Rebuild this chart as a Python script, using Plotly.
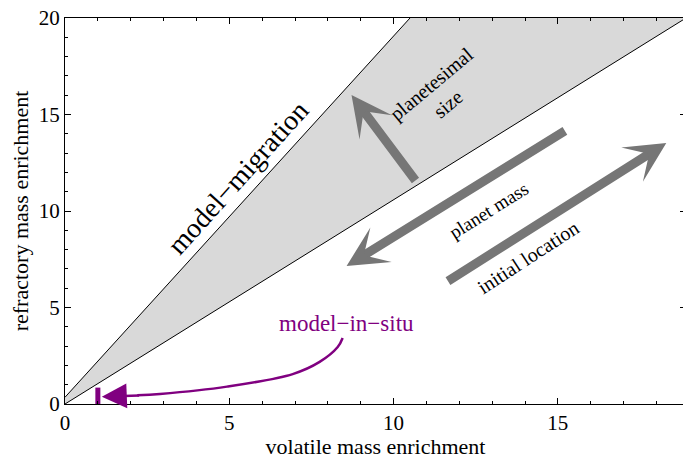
import plotly.graph_objects as go

# wedge boundaries
upper_x = [0, 10.5]
upper_y = [0.35, 20]
lower_x = [0, 18.9]
lower_y = [0, 20]

# in-situ bar
insitu_x = [1, 1]
insitu_y = [0, 0.85]

# curved purple arrow path (data coords)
curve_x = [8.45, 8.3, 7.75, 6.93, 4.93, 2.89, 2.2]
curve_y = [3.42, 2.95, 2.18, 1.55, 0.90, 0.52, 0.45]

# grey arrows: (tail_x, tail_y, tip_x, tip_y)
arrows = [
    (10.70, 11.50, 8.72, 16.01),
    (15.26, 14.20, 8.57, 7.15),
    (11.61, 6.32, 18.30, 13.52),
]

FONT = "Liberation Serif"
GREY = "#767676"
PURPLE = "#800080"

fig = go.Figure()
fig.add_trace(go.Scatter(
    x=upper_x + lower_x[::-1], y=upper_y + lower_y[::-1],
    fill="toself", fillcolor="#d9d9d9", line=dict(width=0),
    mode="lines", hoverinfo="skip", showlegend=False))
fig.add_trace(go.Scatter(x=upper_x, y=upper_y, mode="lines",
                         line=dict(color="black", width=1), showlegend=False))
fig.add_trace(go.Scatter(x=lower_x, y=lower_y, mode="lines",
                         line=dict(color="black", width=1), showlegend=False))
fig.add_trace(go.Scatter(x=insitu_x, y=insitu_y, mode="lines",
                         line=dict(color=PURPLE, width=5), showlegend=False))
fig.add_trace(go.Scatter(x=curve_x, y=curve_y, mode="lines",
                         line=dict(color=PURPLE, width=2.5, shape="spline"),
                         showlegend=False))

anns = []
for tx, ty, hx, hy in arrows:
    anns.append(dict(x=hx, y=hy, ax=tx, ay=ty, xref="x", yref="y",
                     axref="x", ayref="y", showarrow=True, arrowhead=3,
                     arrowsize=0.75, arrowwidth=9, arrowcolor=GREY, text=""))
# purple arrow head
anns.append(dict(x=1.12, y=0.37, ax=2.3, ay=0.45, xref="x", yref="y",
                 axref="x", ayref="y", showarrow=True, arrowhead=2,
                 arrowsize=2.0, arrowwidth=2.5, arrowcolor=PURPLE, text=""))

def lab(text, px, py, angle, size, color="black"):
    return dict(text=text, x=(px - 65) / 32.9, y=(404 - py) / 19.3,
                xref="x", yref="y", showarrow=False, textangle=angle,
                font=dict(family=FONT, size=size, color=color))

anns.append(lab("model\u2212migration", 238, 177, -48, 28))
anns.append(lab("planetesimal<br>size", 440, 94, -40, 20))
anns.append(lab("planet mass", 489, 210, -32, 19))
anns.append(lab("initial location", 529, 257, -33, 20))
anns.append(lab("model\u2212in\u2212situ", 347, 323, 0, 23, PURPLE))

fig.update_layout(annotations=anns)

axis_common = dict(showgrid=False, zeroline=False, showline=True,
                   linecolor="black", linewidth=1, mirror="ticks",
                   ticks="inside", ticklen=6, tickcolor="black",
                   automargin=False, ticklabeloverflow="allow",
                   tickfont=dict(family=FONT, size=21, color="black"),
                   minor=dict(ticks="inside", ticklen=3, dtick=1,
                              tickcolor="black"))

fig.update_xaxes(range=[0, 18.9], dtick=5, tick0=0,
                 title=dict(text="volatile mass enrichment",
                            font=dict(family=FONT, size=22, color="black"),
                            standoff=3),
                 **axis_common)
fig.update_yaxes(range=[0, 20], dtick=5, tick0=0,
                 title=dict(text="refractory mass enrichment",
                            font=dict(family=FONT, size=22, color="black"),
                            standoff=4),
                 **axis_common)

# page body has an 8px margin, so the figure is shrunk and shifted to fit
fig.update_layout(width=683, height=451,
                  margin=dict(l=57, r=5, t=10, b=55),
                  plot_bgcolor="white", paper_bgcolor="white",
                  showlegend=False)

fig.write_html("out.html")
